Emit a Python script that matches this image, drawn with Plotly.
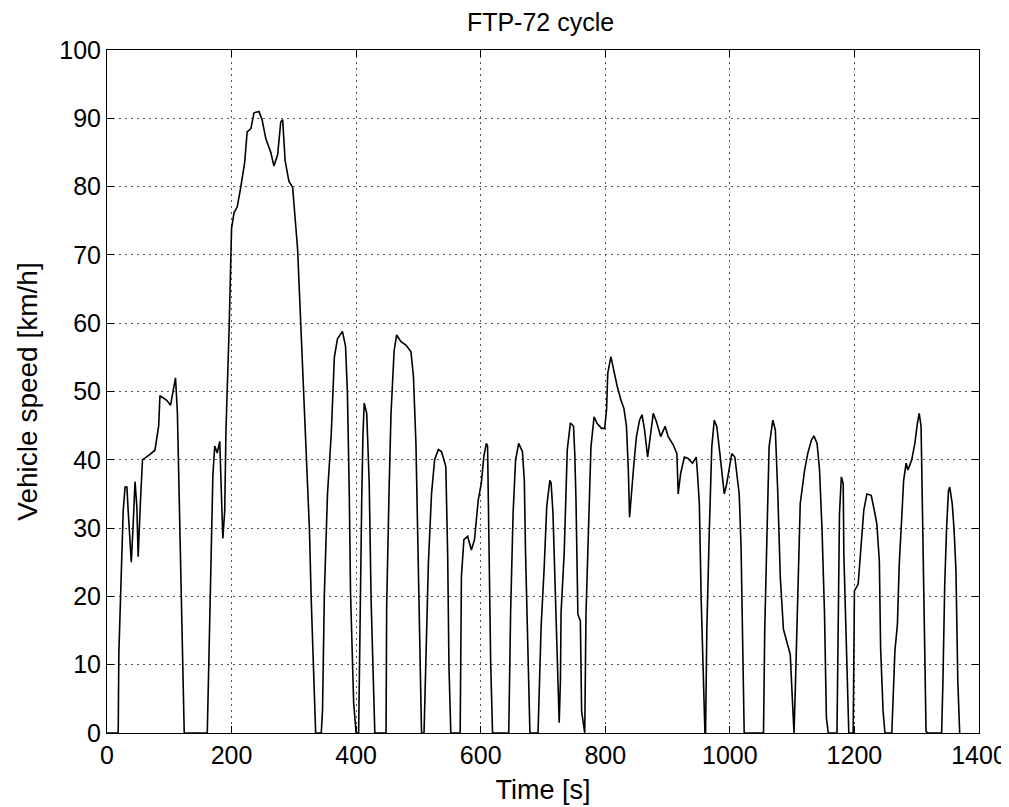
import plotly.graph_objects as go

# Time [s] and vehicle speed [km/h]
time_s = [
    0, 18, 19, 24, 26, 29, 32, 34, 39, 42, 45, 48, 50, 54, 57, 69, 77, 83, 85, 96,
    102, 104, 110, 113, 117, 120, 124,
    161, 162, 167, 170, 173, 177, 181, 183, 186, 189, 191, 196, 200, 204, 209, 214,
    221, 225, 231, 236, 244, 249, 255, 263, 268, 274, 279, 282, 286, 292, 298, 306,
    311, 318, 325, 328, 333, 335,
    344, 346, 349, 354, 360, 365, 370, 378, 383, 386, 389, 391, 396, 400,
    404, 406, 409, 411, 413, 417, 421, 424, 428, 430,
    448, 449, 453, 456, 461, 465, 472, 480, 488, 492, 496, 499, 502, 505,
    509, 512, 516, 521, 526, 532, 537, 544, 547, 549, 552,
    567, 569, 573, 579, 585, 590, 596, 601, 605, 609, 611, 613, 616, 619,
    645, 648, 652, 656, 661, 667, 670, 672, 675, 679,
    692, 694, 697, 702, 706, 711, 713, 716, 720, 723, 726, 728, 729, 734, 739, 744,
    749, 751, 753, 756, 760, 762, 766,
    767, 769, 773, 777, 782, 787, 794, 799, 802, 804, 809, 814, 819, 825, 830, 834,
    837, 839, 842, 846, 850, 855, 859, 863, 868, 871, 877, 882, 889, 896, 901, 909,
    915, 917, 921, 927, 933, 940, 946, 948, 951, 954, 958, 960,
    961, 963, 967, 971, 975, 979, 984, 988, 991, 995, 999, 1003, 1008, 1011, 1015,
    1018, 1021, 1023,
    1054, 1056, 1060, 1063, 1069, 1073, 1077, 1081, 1086, 1091, 1097, 1100, 1103,
    1105, 1109, 1113, 1120, 1125, 1131, 1135, 1140, 1144, 1148, 1152, 1155, 1158,
    1172, 1174, 1176, 1179, 1182, 1183, 1186, 1189, 1191,
    1198, 1200, 1206, 1211, 1215, 1220, 1227, 1233, 1236, 1240, 1242, 1246, 1249,
    1260, 1262, 1265, 1269, 1272, 1276, 1279, 1283, 1286, 1292, 1297, 1301, 1304,
    1307, 1309, 1312, 1315, 1318,
    1340, 1342, 1345, 1348, 1351, 1353, 1357, 1360, 1363, 1366, 1368, 1369,
]

speed_kmh = [
    0, 0, 11.6, 25.8, 32.5, 36, 36, 32.5, 25, 30.5, 36.8, 33, 25.8, 34.5, 40, 40.8, 41.4, 45, 49.4, 48.7,
    48, 49, 52, 47, 30, 12.6, 0,
    0, 4, 24.5, 37.8, 42, 41, 42.7, 37.8, 28.5, 32.5, 44.4, 59, 73.9, 76.2, 77, 79.5,
    83.5, 88, 88.5, 90.8, 91, 89.8, 87, 85, 83, 84.7, 89.5, 89.8, 83.8, 80.8, 79.9, 70.9,
    60.3, 47, 29.8, 19.2, 5.3, 0,
    0, 3.3, 20.5, 35, 43.7, 55, 57.7, 58.8, 56.6, 49.8, 35, 20.5, 4.4, 0,
    0, 17.6, 34.4, 43.9, 48.3, 46.8, 36.6, 19.5, 3.4, 0,
    0, 18.5, 36, 46.8, 56, 58.3, 57.3, 56.8, 55.8, 52.2, 42.4, 27.3, 11.2, 0,
    0, 12.7, 24.9, 35, 40, 41.5, 41.2, 39, 25.9, 9.8, 0,
    0, 22.9, 28.3, 28.8, 26.8, 28.3, 34.1, 36.6, 40.5, 42.4, 42, 27.3, 10.2, 0,
    0, 17.6, 32.2, 40, 42.4, 41.2, 37, 26.3, 14.1, 0,
    0, 6.3, 15.6, 24.4, 33.2, 37, 36.6, 32.2, 20.5, 10.2, 1.5, 7.8, 17.6, 26.3, 41.5, 45.4,
    44.9, 40.9, 34, 17.4, 16.4, 3.2, 0,
    0, 17.4, 28.7, 41.9, 46.3, 45.3, 44.6, 44.6, 47.3, 52.7, 55.1, 52.7, 50.8, 48.8, 47.5, 44.9,
    38.5, 31.6, 35.5, 39.5, 43.4, 45.8, 46.6, 44.4, 40.4, 42.4, 46.8, 45.6, 43.4, 44.9, 43.4, 42.2,
    40.9, 35, 38, 40.4, 40.2, 39.5, 40.4, 38, 33.6, 19.4, 3.2, 0,
    0, 15, 29.7, 41.9, 45.8, 44.9, 40.9, 38, 35, 36.5, 38.5, 40.9, 40.4, 38, 35,
    27.2, 10.5, 0,
    0, 15, 30.6, 41.9, 45.8, 44.4, 35, 22.8, 15.2, 13.5, 11.5, 5.6, 0,
    6.1, 19.9, 33.6, 38.5, 40.9, 42.9, 43.5, 42.4, 38.5, 29.7, 17.4, 2.2, 0,
    0, 16.4, 32.1, 37.5, 36.5, 26.2, 15, 5.1, 0,
    0, 20.8, 21.8, 28.7, 32.6, 35, 34.8, 32.1, 30.6, 25.2, 12.5, 3.2, 0,
    0, 5.1, 12, 15.9, 24.8, 31.6, 37, 39.5, 38.5, 40, 42.4, 45.3, 46.8,
    44.9, 32.1, 15, 0.2, 0,
    0, 7.1, 21.8, 30.1, 35.5, 36, 33.6, 29.7, 23.8, 7.6, 0, 0,
]

x_ticks = [0, 200, 400, 600, 800, 1000, 1200, 1400]
y_ticks = [0, 10, 20, 30, 40, 50, 60, 70, 80, 90, 100]

FONT = "Liberation Sans, Arial, sans-serif"

fig = go.Figure()
fig.add_trace(go.Scatter(
    x=time_s, y=speed_kmh, mode="lines",
    line=dict(color="black", width=1.6),
    showlegend=False, hoverinfo="x+y",
))

axis_common = dict(
    showline=True, linecolor="black", linewidth=1, mirror="allticks",
    ticks="inside", ticklen=7, tickwidth=1, tickcolor="black",
    showgrid=True, gridcolor="#555555", gridwidth=1, griddash="2px,4px",
    zeroline=False, tickfont=dict(family=FONT, size=25, color="black"),
)

# page has an 8px body margin, so the figure is sized/offset to compensate
fig.update_layout(
    width=1001, height=799,
    margin=dict(l=99, r=30, t=42, b=74, autoexpand=False),
    paper_bgcolor="white", plot_bgcolor="white",
    font=dict(family=FONT, size=25, color="black"),
    title=dict(text="FTP-72 cycle", x=0.532, xanchor="center",
               y=1 - 14 / 799, yanchor="middle", yref="container",
               font=dict(family=FONT, size=25, color="black")),
    xaxis=dict(range=[0, 1400], tickvals=x_ticks,
               ticktext=[str(v) for v in x_ticks],
               title=dict(text="Time [s]", standoff=12,
                          font=dict(family=FONT, size=27)),
               automargin=False, **axis_common),
    yaxis=dict(range=[0, 100], tickvals=y_ticks,
               ticktext=[str(v) for v in y_ticks],
               title=dict(text="Vehicle speed [km/h]", standoff=13,
                          font=dict(family=FONT, size=28)),
               automargin=False, **axis_common),
)

fig.write_html("out.html")
